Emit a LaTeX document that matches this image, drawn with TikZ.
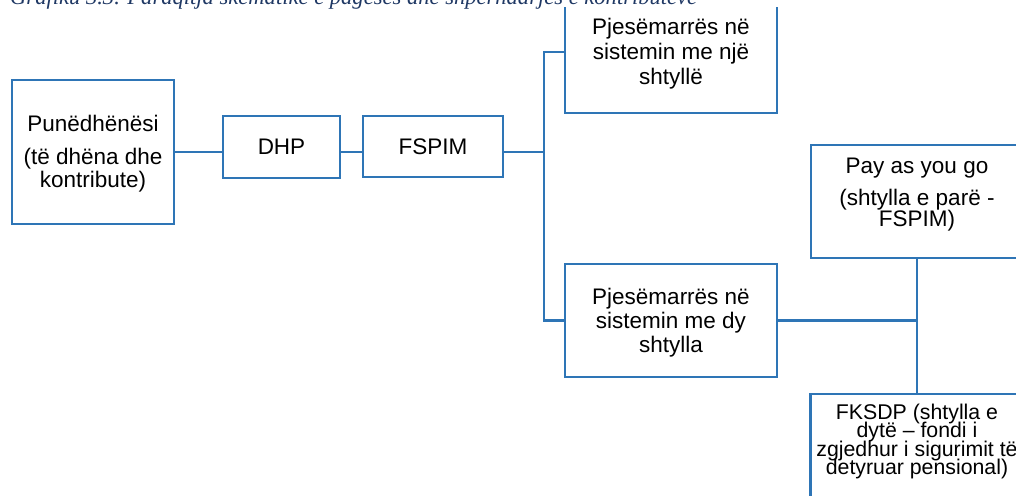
\documentclass[tikz,border=0pt]{standalone}
\usepackage{fontspec}
\setmainfont{Liberation Sans}
\newfontfamily\serifit{Liberation Serif}
\usepackage{graphicx}
\definecolor{lineblue}{RGB}{46,117,182}
\definecolor{titleblue}{RGB}{31,56,100}
% [font size] width, height, top skip, baselineskip, text
\newcommand\boxtext[6][22.5]{\begin{minipage}[c][#3][t]{#2}\fontsize{#1}{#5}\selectfont\centering\lineskiplimit=-100pt\relax\vspace*{#4}\rule{0pt}{17pt}#6\end{minipage}}
\tikzset{
  box/.style={draw=lineblue, line width=2.2pt, fill=white, inner sep=0pt, outer sep=0pt},
  conn/.style={draw=lineblue, line width=2.2pt, line cap=rect},
}
\begin{document}
\begin{tikzpicture}[x=1pt,y=-1pt]
\useasboundingbox (0,0) rectangle (1016,495);
\clip (0,0) rectangle (1016,495);
% title (cut by the top edge)
\node[anchor=base west, inner sep=0pt, text=titleblue, font=\serifit\itshape\fontsize{20}{24}\selectfont] (title) at (10,5)
  {\resizebox{687pt}{!}{Grafiku 3.3. Paraqitja skematike e pagesës dhe shpërndarjes e kontributeve}};
% boxes
\node[box] (emp) at (93,152) {\boxtext{162pt}{144pt}{34.5pt}{23.5pt}{Punëdhënësi\\[9pt](të dhëna dhe\\kontribute)}};
\node[box] (dhp) at (281.5,147) {\boxtext{117pt}{62pt}{21pt}{24pt}{DHP}};
\node[box] (fspim) at (433,146.5) {\boxtext{140pt}{61pt}{21pt}{24pt}{FSPIM}};
\begin{scope}
  \clip (0,8) rectangle (1016,495);
  \node[box] (p1) at (671,52) {\boxtext{212pt}{122pt}{27pt}{24.5pt}{Pjesëmarrës në\\sistemin me një\\shtyllë}};
\end{scope}
\node[box] (p2) at (671,320.5) {\boxtext{212pt}{113pt}{23pt}{24pt}{Pjesëmarrës në\\sistemin me dy\\shtylla}};
\node[box] (pay) at (917,201.5) {\boxtext{212pt}{113pt}{11pt}{21pt}{Pay as you go\\[11pt](shtylla e parë -\\FSPIM)}};
\node[box] (fks) at (917,450.5) {\boxtext[21.3]{213pt}{113pt}{8pt}{18.5pt}{FKSDP (shtylla e\\dytë – fondi i\\zgjedhur i sigurimit të\\detyruar pensional)}};
% bus coordinate
\coordinate (bus) at (544,152);
% connectors
\path[conn] (emp.east) -- (emp.east -| dhp.west);
\path[conn] (emp.east -| dhp.east) -- (emp.east -| fspim.west);
\path[conn] (emp.east -| fspim.east) -- (bus);
\path[conn] (p1.west) -- (p1.west -| bus) -- (p2.west -| bus) -- (p2.west);
\path[conn] (p2.east) -- (p2.east -| pay.south);
\path[conn] (pay.south) -- (fks.north);
\end{tikzpicture}
\end{document}
